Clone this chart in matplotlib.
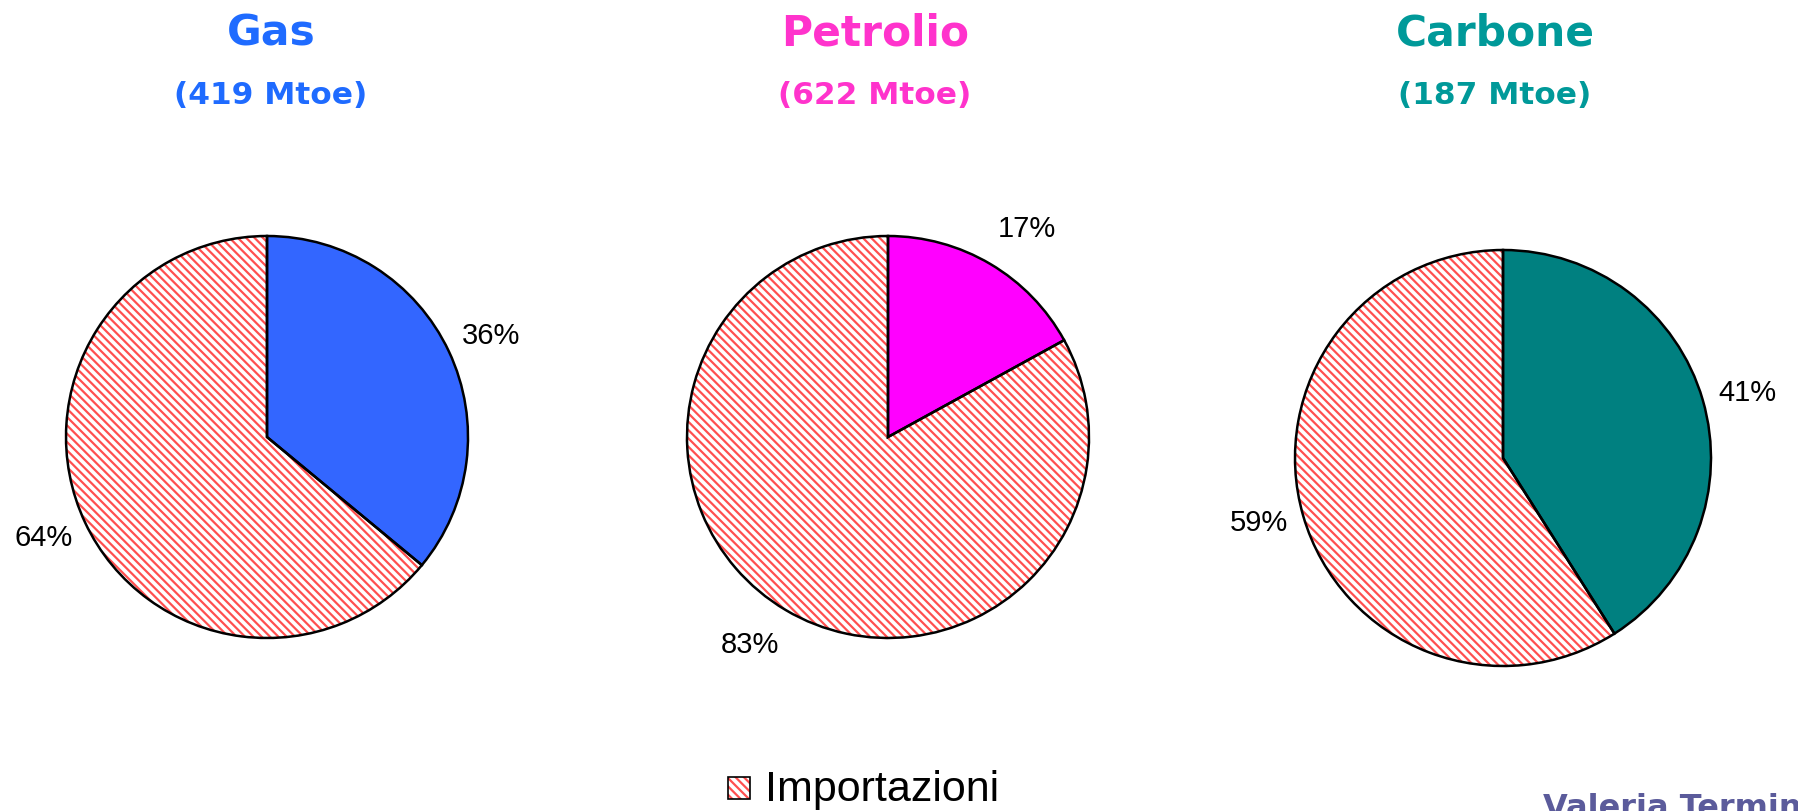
import numpy as np
import matplotlib
matplotlib.use('Agg')
import matplotlib.pyplot as plt
from matplotlib.patches import Rectangle

# ---- data ----
fuels = ['Gas', 'Petrolio', 'Carbone']
mtoe = [419, 622, 187]
domestic_share = [36, 17, 41]
import_share = [64, 83, 59]
legend_label = 'Importazioni'
credit = 'Valeria Termini'

# ---- layout / style ----
W, H = 1798, 811
title_colors = ['#1F6BFF', '#FF33CC', '#009999']
slice_colors = ['#3366FF', '#FF00FF', '#008080']
hatch_color = '#FF5050'
centers = [(267, 437), (888, 437), (1503, 458)]
radii = [201, 201, 208]
title_x = [271, 875, 1495]
label_dist = [1.22, 1.245, 1.215]
label_rot = [-1.0, -3.0, -1.2]   # small angular nudge of the labels (degrees)
HATCH = '\\\\\\\\'

plt.rcParams['hatch.linewidth'] = 1.6
fig = plt.figure(figsize=(W / 100, H / 100), dpi=100)
ax = fig.add_axes([0, 0, 1, 1])

for i in range(len(fuels)):
    cx, cy = centers[i]
    c = (cx, H - cy)
    vals = [domestic_share[i], import_share[i]]
    wedges, _ = ax.pie(vals, colors=[slice_colors[i], 'white'], startangle=90,
                       counterclock=False, center=c, radius=radii[i],
                       wedgeprops=dict(linewidth=0))
    wedges[1].set_hatch(HATCH)
    wedges[1].set_edgecolor(hatch_color)
    wedges[1].set_linewidth(0)
    outline, _ = ax.pie(vals, colors=['none', 'none'], startangle=90, counterclock=False,
                        center=c, radius=radii[i],
                        wedgeprops=dict(edgecolor='black', linewidth=1.8, fill=False))
    total = sum(vals)
    for w, v in zip(outline, vals):
        mid = np.deg2rad((w.theta1 + w.theta2) / 2 + label_rot[i])
        r = w.r * label_dist[i]
        ax.text(w.center[0] + r * np.cos(mid), w.center[1] + r * np.sin(mid),
                f'{100 * v / total:.0f}%', ha='center', va='center',
                fontsize=21, family='Liberation Sans', color='black')
    ax.text(title_x[i], H - 34, fuels[i], ha='center', va='center',
            fontsize=30.5, fontweight='bold', family='DejaVu Sans', color=title_colors[i])
    ax.text(title_x[i], H - 96, f'({mtoe[i]} Mtoe)', ha='center', va='center',
            fontsize=22.5, fontweight='bold', family='DejaVu Sans', color=title_colors[i])

# legend
ax.add_patch(Rectangle((728, H - 799), 22, 22, facecolor='white', edgecolor=hatch_color,
                       hatch=HATCH, linewidth=0))
ax.add_patch(Rectangle((728, H - 799), 22, 22, fill=False, edgecolor='black', linewidth=1.2))
ax.text(765, H - 790, legend_label, ha='left', va='center', fontsize=31,
        family='Liberation Sans', color='black')

# credit (cut off at figure edge, as in the reference)
ax.text(1543, H - 793, credit, ha='left', va='top', fontsize=23, fontweight='bold',
        family='DejaVu Sans', color='#5B5B9B')

ax.set_aspect('auto')
ax.set_xlim(0, W)
ax.set_ylim(0, H)
ax.axis('off')
fig.savefig('out.png', dpi=100)
